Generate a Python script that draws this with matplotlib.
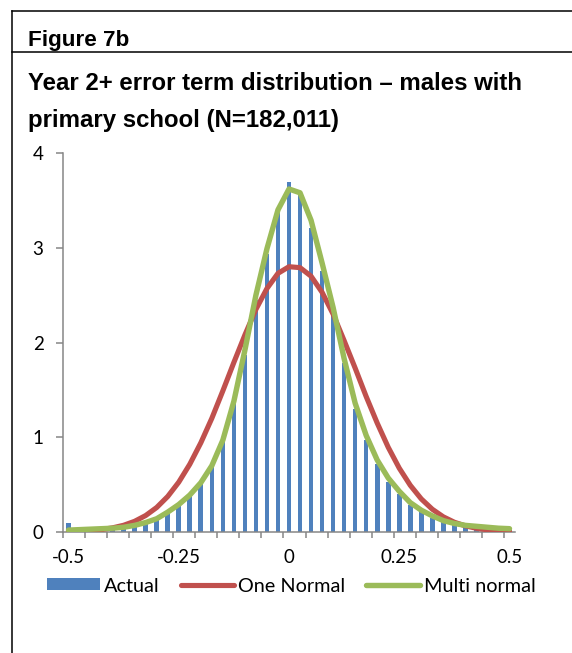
import matplotlib
matplotlib.use("Agg")
import matplotlib.pyplot as plt
from matplotlib.lines import Line2D
from matplotlib.patches import Patch

# Error-term bins (category axis), -0.5 .. 0.5 in steps of 0.025
bins = [-0.5, -0.475, -0.45, -0.425, -0.4, -0.375, -0.35, -0.325, -0.3, -0.275,
        -0.25, -0.225, -0.2, -0.175, -0.15, -0.125, -0.1, -0.075, -0.05, -0.025,
        0.0, 0.025, 0.05, 0.075, 0.1, 0.125, 0.15, 0.175, 0.2, 0.225,
        0.25, 0.275, 0.3, 0.325, 0.35, 0.375, 0.4, 0.425, 0.45, 0.475, 0.5]

actual = [0.09, 0.015, 0.02, 0.025, 0.03, 0.045, 0.065, 0.09, 0.13, 0.20,
          0.28, 0.38, 0.51, 0.69, 0.95, 1.35, 1.87, 2.45, 2.93, 3.38,
          3.69, 3.56, 3.21, 2.75, 2.31, 1.78, 1.30, 0.97, 0.72, 0.53,
          0.40, 0.29, 0.21, 0.15, 0.11, 0.08, 0.06, 0.045, 0.035, 0.025, 0.02]

one_normal = [0.004, 0.008, 0.015, 0.026, 0.044, 0.071, 0.113, 0.174, 0.259, 0.375,
              0.526, 0.715, 0.941, 1.20, 1.49, 1.79, 2.08, 2.35, 2.57, 2.73,
              2.80, 2.79, 2.70, 2.53, 2.30, 2.02, 1.73, 1.43, 1.15, 0.894,
              0.674, 0.493, 0.349, 0.240, 0.160, 0.103, 0.065, 0.039, 0.023, 0.013, 0.007]

multi_normal = [0.02, 0.025, 0.03, 0.035, 0.04, 0.05, 0.07, 0.10, 0.14, 0.21,
                0.29, 0.39, 0.52, 0.70, 0.97, 1.38, 1.92, 2.50, 2.99, 3.40,
                3.62, 3.58, 3.29, 2.84, 2.37, 1.83, 1.36, 1.02, 0.76, 0.57,
                0.43, 0.31, 0.23, 0.17, 0.12, 0.09, 0.07, 0.06, 0.05, 0.04, 0.035]

x_labels = ["-0.5", "-0.25", "0", "0.25", "0.5"]
y_ticks = [0, 1, 2, 3, 4]

BLUE = "#4F81BD"
RED = "#C0504D"
GREEN = "#9BBB59"
AXIS_GREY = "#868686"

W, H = 572, 653
fig = plt.figure(figsize=(W / 100, H / 100), dpi=100)
fig.patch.set_facecolor("white")

# Box frame around the figure
frame_kw = dict(color="black", linewidth=1.1, transform=fig.transFigure)
fig.add_artist(Line2D([12 / W, 12 / W], [0, 1 - 11 / H], **frame_kw))
fig.add_artist(Line2D([12 / W, 1], [1 - 11 / H, 1 - 11 / H], **frame_kw))
fig.add_artist(Line2D([12 / W, 1], [1 - 51.5 / H, 1 - 51.5 / H], **frame_kw))

bold = dict(family=["Liberation Sans", "DejaVu Sans"], fontweight="bold", color="black")
fig.text(28 / W, 1 - 46 / H, "Figure 7b", va="baseline", ha="left",
         fontsize=16.2, **bold)
fig.text(28 / W, 1 - 90 / H, "Year 2+ error term distribution \u2013 males with",
         va="baseline", ha="left", fontsize=17.3, **bold)
fig.text(28 / W, 1 - 127 / H, "primary school (N=182,011)",
         va="baseline", ha="left", fontsize=17.3, **bold)

ax = fig.add_axes([63 / W, 1 - 532 / H, (515 - 63) / W, (532 - 153) / H])
pos = list(range(len(bins)))

ax.bar(pos, actual, width=0.42, color=BLUE, label="Actual", zorder=2)
ax.plot(pos, one_normal, color=RED, linewidth=3.7, solid_capstyle="round",
        solid_joinstyle="round", label="One Normal", zorder=3)
ax.plot(pos, multi_normal, color=GREEN, linewidth=3.9, solid_capstyle="round",
        solid_joinstyle="round", label="Multi normal", zorder=4)

ax.set_xlim(-0.5, len(bins) - 0.5)
ax.set_ylim(0, 4)

for side in ("top", "right"):
    ax.spines[side].set_visible(False)
for side in ("left", "bottom"):
    ax.spines[side].set_color(AXIS_GREY)
    ax.spines[side].set_linewidth(1.1)

tick_font = dict(family=["Lato", "DejaVu Sans"], size=13.5)

ax.set_yticks(y_ticks)
ax.set_yticklabels([str(v) for v in y_ticks], fontdict=tick_font)
ax.tick_params(axis="y", direction="out", length=5, width=1.1, color=AXIS_GREY,
               pad=9, labelcolor="black")

# Labels every 10 bins; tick marks on every second bin boundary
label_pos = [bins.index(float(s)) for s in x_labels]
ax.set_xticks(label_pos)
ax.set_xticklabels(x_labels, fontdict=tick_font)
ax.set_xticks([p - 0.5 for p in pos[::2]], minor=True)
ax.tick_params(axis="x", which="major", length=0, pad=12, labelcolor="black")
ax.tick_params(axis="x", which="minor", direction="out", length=4.5, width=1.1,
               color=AXIS_GREY)

handles = [Patch(facecolor=BLUE, edgecolor="none", label="Actual"),
           Line2D([], [], color=RED, linewidth=3.7, solid_capstyle="round",
                  label="One Normal"),
           Line2D([], [], color=GREEN, linewidth=3.9, solid_capstyle="round",
                  label="Multi normal")]
fig.legend(handles=handles, loc="center", bbox_to_anchor=(291 / W, 1 - 586 / H),
           ncol=3, frameon=False, prop={"family": ["Lato", "DejaVu Sans"], "size": 14.3},
           handlelength=2.7, handletextpad=0.2, columnspacing=1.05,
           handleheight=0.55, borderpad=0, borderaxespad=0)

fig.savefig("out.png", dpi=100, facecolor="white")
